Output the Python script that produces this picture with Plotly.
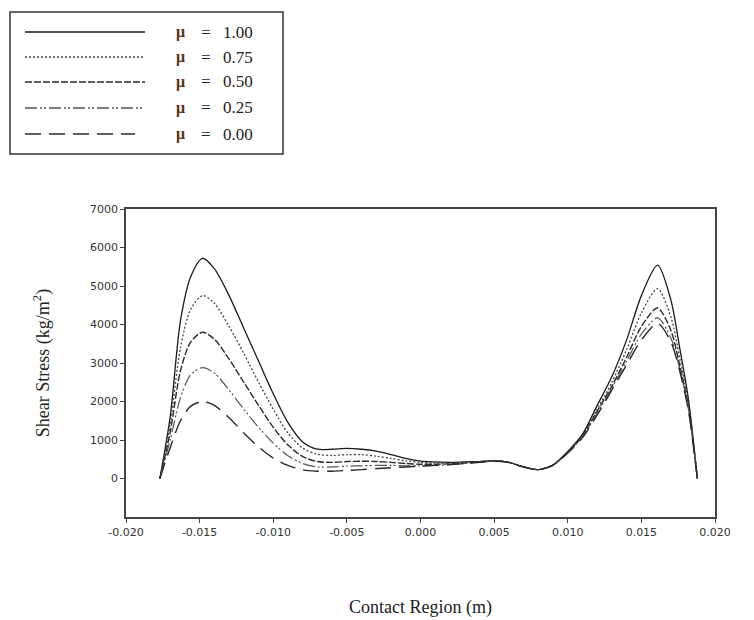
import plotly.graph_objects as go

# ---- data ----
x_pos = [-0.0177, -0.0170, -0.0163, -0.0156, -0.0148, -0.0140, -0.0130, -0.0120,
         -0.0110, -0.0100, -0.0090, -0.0080, -0.0070, -0.0060, -0.0050, -0.0040,
         -0.0030, -0.0020, -0.0010, 0.0000, 0.0010, 0.0020, 0.0030, 0.0040,
         0.0050, 0.0060, 0.0070, 0.0080, 0.0090, 0.0100, 0.0110, 0.0120,
         0.0130, 0.0140, 0.0150, 0.0161, 0.0170, 0.0176, 0.0182, 0.0188]

stress_mu100 = [0, 1600, 4100, 5250, 5720, 5450, 4750, 3900,
                3050, 2200, 1450, 950, 760, 760, 780, 760,
                710, 620, 520, 450, 430, 420, 430, 440,
                460, 420, 300, 230, 350, 700, 1150, 1900,
                2650, 3600, 4750, 5540, 4640, 3400, 2050, 0]
stress_mu075 = [0, 1400, 3400, 4400, 4750, 4550, 3950, 3250,
                2500, 1800, 1180, 790, 630, 600, 620, 620,
                580, 520, 460, 420, 400, 400, 420, 440,
                460, 420, 300, 230, 350, 690, 1120, 1800,
                2500, 3350, 4300, 4930, 4200, 3150, 1950, 0]
stress_mu050 = [0, 1200, 2800, 3550, 3800, 3620, 3100, 2500,
                1900, 1330, 870, 570, 440, 420, 440, 450,
                440, 420, 390, 370, 370, 380, 400, 430,
                460, 420, 300, 230, 350, 680, 1100, 1750,
                2400, 3150, 3950, 4430, 3850, 2950, 1850, 0]
stress_mu025 = [0, 1000, 2100, 2700, 2880, 2740, 2300, 1800,
                1330, 920, 590, 390, 300, 300, 320, 330,
                340, 340, 330, 330, 340, 360, 390, 420,
                450, 420, 300, 230, 350, 670, 1080, 1700,
                2350, 3050, 3750, 4170, 3650, 2850, 1800, 0]
stress_mu000 = [0, 800, 1500, 1880, 2000, 1900, 1580, 1180,
                820, 530, 340, 225, 190, 190, 210, 230,
                260, 280, 300, 320, 340, 360, 390, 420,
                450, 420, 300, 230, 350, 660, 1060, 1650,
                2300, 2950, 3600, 4030, 3550, 2800, 1750, 0]

series_names = ["1.00", "0.75", "0.50", "0.25", "0.00"]
series_values = [stress_mu100, stress_mu075, stress_mu050, stress_mu025, stress_mu000]

x_tickvals = [-0.020, -0.015, -0.010, -0.005, 0.000, 0.005, 0.010, 0.015, 0.020]
x_ticktext = ["-0.020", "-0.015", "-0.010", "-0.005", "0.000", "0.005", "0.010", "0.015", "0.020"]
y_tickvals = [0, 1000, 2000, 3000, 4000, 5000, 6000, 7000]
y_ticktext = ["0", "1000", "2000", "3000", "4000", "5000", "6000", "7000"]

# ---- styles ----
dashes = ["solid", "2px,2px", "7px,2px", "12px,3px,2px,2px,2px,3px", "16px,8px"]
colors = ["#1a1a1a", "#444444", "#2a2a2a", "#555555", "#2a2a2a"]
widths = [1.3, 1.3, 1.4, 1.2, 1.4]

W, H = 754, 620
L, R, T, B = 126, 39, 209, 103
PW, PH = W - L - R, H - T - B

def px(xp):
    return (xp - L) / PW

def py(yp):
    return 1 - (yp - T) / PH

fig = go.Figure()
for name, vals, d, c, w in zip(series_names, series_values, dashes, colors, widths):
    fig.add_trace(go.Scatter(
        x=x_pos, y=vals, mode="lines", name="μ = " + name,
        line=dict(color=c, width=w, dash=d, shape="spline", smoothing=0.8),
        showlegend=False,
    ))

# ---- hand-drawn legend box (top-left, like the reference) ----
shapes = [dict(type="rect", xref="paper", yref="paper",
               x0=px(10), x1=px(283), y0=py(12), y1=py(154),
               line=dict(color="#333333", width=1.5), fillcolor="white", layer="above")]
annotations = []
rows_y = [32, 57, 82, 108, 134]
sample_end = [145, 145, 145, 145, 135]
lfont = dict(family="Liberation Serif", size=17, color="#222222")
for i, name in enumerate(series_names):
    yy = py(rows_y[i])
    shapes.append(dict(type="line", xref="paper", yref="paper",
                       x0=px(25), x1=px(sample_end[i]), y0=yy, y1=yy,
                       line=dict(color=colors[i], width=widths[i] + 0.2, dash=dashes[i])))
    annotations.append(dict(
        xref="paper", yref="paper", x=px(174), y=yy, xanchor="left", yanchor="middle",
        text="<b>μ</b>", showarrow=False,
        font=dict(family="Liberation Serif", size=16, color="#5a3412")))
    annotations.append(dict(
        xref="paper", yref="paper", x=px(199), y=yy, xanchor="left", yanchor="middle",
        text="=", showarrow=False, font=lfont))
    annotations.append(dict(
        xref="paper", yref="paper", x=px(221), y=yy, xanchor="left", yanchor="middle",
        text=name, showarrow=False, font=lfont))

fig.update_layout(
    width=W, height=H,
    margin=dict(l=L, r=R, t=T, b=B),
    paper_bgcolor="white", plot_bgcolor="white",
    shapes=shapes, annotations=annotations,
    showlegend=False,
)
fig.update_xaxes(
    range=[-0.020, 0.020], tickvals=x_tickvals, ticktext=x_ticktext, automargin=False,
    showgrid=False, zeroline=False, showline=True, linecolor="#444444", linewidth=1.5,
    mirror=True, ticks="outside", ticklen=4, tickcolor="#444444",
    tickfont=dict(family="DejaVu Sans", size=11, color="#333333"),
    title=dict(text="Contact Region (m)", standoff=62,
               font=dict(family="Liberation Serif", size=18, color="#222222")),
)
fig.update_yaxes(
    range=[-1000, 7000], tickvals=y_tickvals, ticktext=y_ticktext, automargin=False,
    showgrid=False, zeroline=False, showline=True, linecolor="#444444", linewidth=1.5,
    mirror=True, ticks="outside", ticklen=4, tickcolor="#444444",
    tickfont=dict(family="DejaVu Sans", size=11, color="#333333"),
    title=dict(text="Shear Stress (kg/m<sup>2</sup>)", standoff=36,
               font=dict(family="Liberation Serif", size=18, color="#222222")),
)

fig.write_html("out.html", config={"displayModeBar": False},
               post_script="document.body.style.margin='0';")
